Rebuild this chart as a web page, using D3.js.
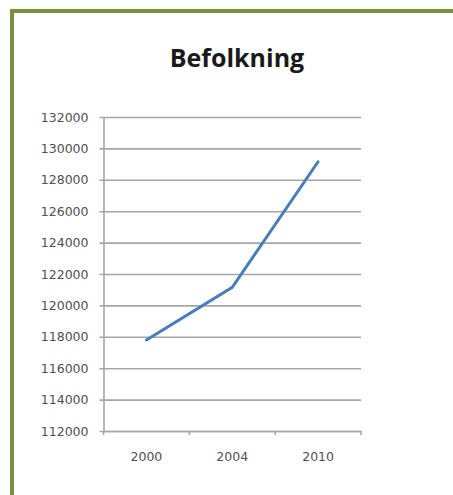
<!DOCTYPE html>
<html>
<head>
<meta charset="utf-8">
<script src="https://cdn.jsdelivr.net/npm/d3@7"></script>
<style>
  body { margin: 0; background: #fff; }
  svg { display: block; }
</style>
</head>
<body>
<div id="chart"></div>
<script>
const years = ["2000", "2004", "2010"];
const population = [117800, 121150, 129150];
const yTicks = [112000, 114000, 116000, 118000, 120000, 122000, 124000, 126000, 128000, 130000, 132000];

var width = 453, height = 495;

var svg = d3.select("#chart")
  .append("svg")
  .attr("width", width)
  .attr("height", height);

// green frame (only top and left edges are visible in the picture)
svg.append("path")
  .attr("d", "M12,495 L12,11 L453,11")
  .attr("fill", "none")
  .attr("stroke", "#76923c")
  .attr("stroke-width", 4);

svg.append("text")
  .attr("x", 237)
  .attr("y", 67)
  .attr("text-anchor", "middle")
  .style("font-family", "'Open Sans', sans-serif")
  .style("font-weight", "bold")
  .style("font-size", "25px")
  .style("fill", "#1a1a1a")
  .text("Befolkning");

var x = d3.scaleBand()
  .domain(years)
  .range([103.5, 361]);

var y = d3.scaleLinear()
  .domain([112000, 132000])
  .range([431, 117]);

var plotW = 361 - 103.5;

// y axis with gridlines
var gy = svg.append("g")
  .attr("transform", "translate(103.5,0)")
  .call(d3.axisLeft(y).tickValues(yTicks).tickFormat(d3.format("d"))
    .tickSizeInner(-plotW).tickSizeOuter(0).tickPadding(15));

gy.selectAll(".tick line")
  .attr("x1", -4)
  .attr("x2", plotW)
  .attr("stroke", "#a6a6a6")
  .attr("stroke-width", 1.6);
gy.select(".domain")
  .attr("stroke", "#a6a6a6")
  .attr("stroke-width", 1.6);
gy.selectAll("text")
  .style("font-family", "'DejaVu Sans', sans-serif")
  .style("font-size", "12.5px")
  .style("fill", "#505050");

// x axis: labels centred in bands, tick marks on band edges
var gx = svg.append("g")
  .attr("transform", "translate(0,431)")
  .call(d3.axisBottom(x).tickSize(0).tickPadding(21));

gx.select(".domain")
  .attr("stroke", "#a6a6a6")
  .attr("stroke-width", 1.6);
gx.selectAll("text")
  .style("font-family", "'DejaVu Sans', sans-serif")
  .style("font-size", "12.5px")
  .style("fill", "#505050");

var edges = years.map(function(d) { return x(d); }).concat([x(years[years.length - 1]) + x.bandwidth()]);
gx.selectAll(".edge")
  .data(edges)
  .enter()
  .append("line")
  .attr("class", "edge")
  .attr("x1", function(d) { return d; })
  .attr("x2", function(d) { return d; })
  .attr("y1", 0)
  .attr("y2", 4)
  .attr("stroke", "#a6a6a6")
  .attr("stroke-width", 1.6);

var line = d3.line()
  .x(function(d, i) { return x(years[i]) + x.bandwidth() / 2; })
  .y(function(d) { return y(d); });

svg.append("path")
  .datum(population)
  .attr("d", line)
  .attr("fill", "none")
  .attr("stroke", "#4a7ebb")
  .attr("stroke-width", 3)
  .attr("stroke-linecap", "round");
</script>
</body>
</html>
